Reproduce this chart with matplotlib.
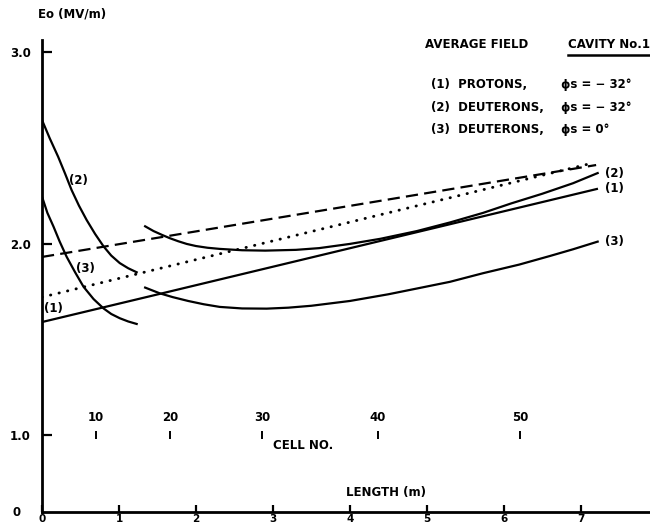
import numpy as np
import matplotlib
matplotlib.use("Agg")
import matplotlib.pyplot as plt

# values (length in m, Eo in MV/m)
dash_x = [0.0, 7.2]
dash_y = [1.93, 2.41]
dot_x = [0.0, 7.15]
dot_y = [1.72, 2.42]
p1_x = [0.0, 1.53, 4.4, 7.21]
p1_y = [1.59, 1.737, 2.014, 2.285]

d2_left_x = [0.0, 0.1, 0.21, 0.3, 0.385, 0.48, 0.58, 0.69, 0.80, 0.9, 1.01, 1.12, 1.23]
d2_left_y = [2.645, 2.55, 2.453, 2.365, 2.279, 2.198, 2.123, 2.05, 1.985, 1.937,
             1.898, 1.871, 1.85]
d3_left_x = [0.0, 0.07, 0.15, 0.23, 0.32, 0.43, 0.54, 0.67, 0.80, 0.9, 1.01, 1.12, 1.23]
d3_left_y = [2.245, 2.16, 2.088, 2.01, 1.931, 1.85, 1.774, 1.71, 1.661, 1.632,
             1.61, 1.593, 1.58]

d2_right_x = [1.34, 1.45, 1.56, 1.66, 1.77, 1.88, 2.0, 2.15, 2.31, 2.6, 2.9,
              3.3, 3.6, 4.0, 4.4, 4.87, 5.3, 5.73, 6.1, 6.5, 6.9, 7.22]
d2_right_y = [2.09, 2.065, 2.045, 2.028, 2.012, 1.998, 1.987, 1.978, 1.972,
              1.965, 1.963, 1.967, 1.976, 1.998, 2.025, 2.065, 2.11, 2.16,
              2.21, 2.26, 2.315, 2.368]
d3_right_x = [1.34, 1.53, 1.7, 1.9, 2.1, 2.31, 2.6, 2.92, 3.2, 3.5, 4.0,
              4.5, 4.87, 5.3, 5.73, 6.2, 6.6, 6.9, 7.22]
d3_right_y = [1.77, 1.74, 1.72, 1.70, 1.683, 1.669, 1.661, 1.66, 1.665, 1.675,
              1.70, 1.735, 1.765, 1.80, 1.845, 1.89, 1.935, 1.97, 2.01]

cell_no = [10, 20, 30, 40, 50]
cell_len = [0.70, 1.66, 2.86, 4.36, 6.21]

x_ticks = [0, 1, 2, 3, 4, 5, 6, 7]
y_ticks = [1.0, 2.0, 3.0]
y_ticklabels = ["1.0", "2.0", "3.0"]

legend_lines = ["(1)  PROTONS,", "(2)  DEUTERONS,", "(3)  DEUTERONS,"]
legend_phase = ["\u03d5s = \u2212 32\u00b0", "\u03d5s = \u2212 32\u00b0", "\u03d5s = 0\u00b0"]

# suppressed zero: 0..1 squeezed, 1..3 full scale
K = 77 / 191.5


def fwd(y):
    y = np.asarray(y, dtype=float)
    return np.where(y < 1, y * K, K + (y - 1))


def inv(p):
    p = np.asarray(p, dtype=float)
    return np.where(p < K, p / K, 1 + (p - K))


plt.rcParams['font.family'] = ['DejaVu Sans']
plt.rcParams['font.weight'] = 'bold'
FS = 8.5
LW = 1.6

fig = plt.figure(figsize=(6.5, 5.26), dpi=100)
ax = fig.add_axes([42 / 650, 14 / 526, 608 / 650, 472 / 526])
ax.set_yscale('function', functions=(fwd, inv))
ax.set_xlim(0, 7.9)
ax.set_ylim(0, 3.063)

ax.plot(dash_x, dash_y, color='black', lw=LW, linestyle=(0, (5.5, 2.8)))
ax.plot(dot_x, dot_y, color='black', lw=2.1, linestyle=(0, (0.1, 2.9)),
        dash_capstyle='round')
ax.plot(p1_x, p1_y, color='black', lw=LW)
ax.plot(d2_left_x, d2_left_y, color='black', lw=LW)
ax.plot(d3_left_x, d3_left_y, color='black', lw=LW)
ax.plot(d2_right_x, d2_right_y, color='black', lw=LW)
ax.plot(d3_right_x, d3_right_y, color='black', lw=LW)

# curve labels
ax.text(0.47, 2.33, "(2)", fontsize=FS, fontweight='bold', ha='center', va='center')
ax.text(0.56, 1.87, "(3)", fontsize=FS, fontweight='bold', ha='center', va='center')
ax.text(0.15, 1.66, "(1)", fontsize=FS, fontweight='bold', ha='center', va='center')
ax.text(7.32, d2_right_y[-1], "(2)", fontsize=FS, fontweight='bold', va='center')
ax.text(7.32, p1_y[-1], "(1)", fontsize=FS, fontweight='bold', va='center')
ax.text(7.32, d3_right_y[-1], "(3)", fontsize=FS, fontweight='bold', va='center')

# cell number scale
ax.plot(cell_len, [1.0] * len(cell_len), ls='none', marker='|', ms=6,
        mew=1.4, color='black')
for c, x in zip(cell_no, cell_len):
    ax.text(x, 1.06, str(c), fontsize=FS, fontweight='bold', ha='center', va='bottom')
ax.text(3.0, 0.86, "CELL NO.", fontsize=FS, fontweight='bold', va='center')
ax.text(3.95, 0.25, "LENGTH (m)", fontsize=FS, fontweight='bold', va='center')

# header text
ax.text(4.98, 3.037, "AVERAGE FIELD", fontsize=FS, fontweight='bold', va='center')
ax.text(6.83, 3.037, "CAVITY No.1", fontsize=FS, fontweight='bold', va='center')
ax.plot([6.83, 7.9], [2.985, 2.985], color='black', lw=1.8, clip_on=False)
leg_y = [2.83, 2.71, 2.595]
for s, ph, y in zip(legend_lines, legend_phase, leg_y):
    ax.text(5.05, y, s, fontsize=FS, fontweight='bold', va='center')
    ax.text(6.75, y, ph, fontsize=FS, fontweight='bold', va='center')

fig.text(38 / 650, 1 - 14 / 526, "Eo (MV/m)", fontsize=FS, fontweight='bold', va='center')
ax.text(-0.33, 0.0, "0", fontsize=FS, fontweight='bold', ha='center', va='center')

ax.set_xticks(x_ticks)
ax.set_xticklabels([str(t) for t in x_ticks])
ax.set_yticks(y_ticks)
ax.set_yticklabels(y_ticklabels)
ax.tick_params(axis='both', direction='in', width=1.6, labelsize=FS)
ax.tick_params(axis='x', length=5, pad=1.5, labelsize=7.5)
ax.tick_params(axis='y', length=7, pad=8)
for sp in ['top', 'right']:
    ax.spines[sp].set_visible(False)
for sp in ['left', 'bottom']:
    ax.spines[sp].set_linewidth(2.0)

fig.savefig("out.png", dpi=100)
